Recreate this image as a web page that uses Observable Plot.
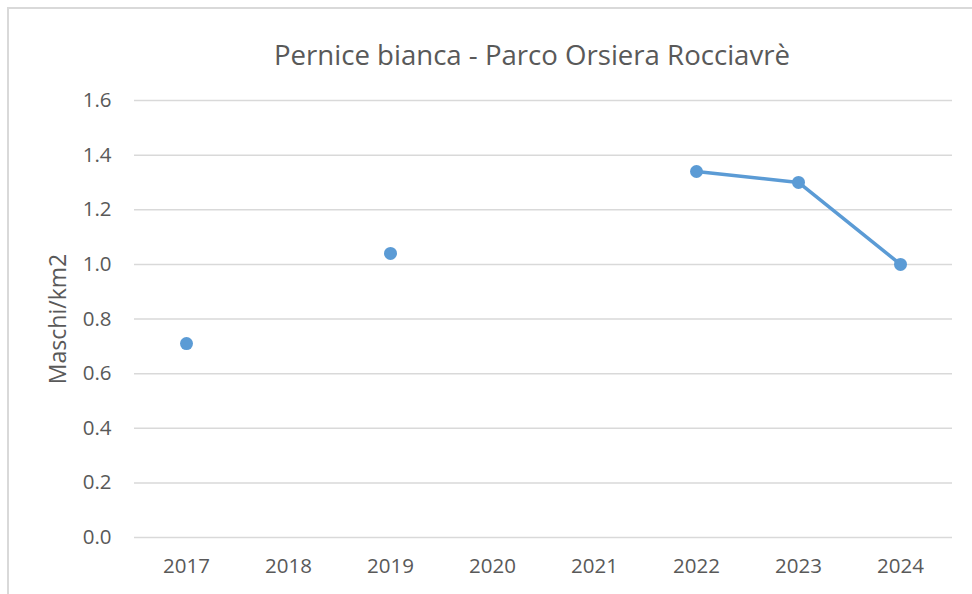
<!DOCTYPE html>
<html>
<head>
<meta charset="utf-8">
<script src="https://cdn.jsdelivr.net/npm/d3@7"></script>
<script src="https://cdn.jsdelivr.net/npm/@observablehq/plot@0.6"></script>
<style>
  html, body { margin: 0; padding: 0; background: #fff; }
  #wrap { position: relative; width: 972px; height: 594px; overflow: hidden; font-family: "Open Sans", sans-serif; }
  #frame { position: absolute; left: 7px; top: 7px; width: 980px; height: 600px; border-top: 2px solid #d9d9d9; border-left: 2px solid #d9d9d9; box-sizing: border-box; }
  #title { position: absolute; left: 0; top: 0; width: 972px; height: 80px; }
  #title span { position: absolute; white-space: nowrap; color: #595959; font-weight: 400; font-size: 26px; line-height: 1; }
  #chart { position: absolute; left: 0; top: 80px; }
</style>
</head>
<body>
<div id="wrap">
  <div id="frame"></div>
  <div id="title"><span id="ttext">Pernice bianca - Parco Orsiera Rocciavrè</span></div>
  <div id="chart"></div>
</div>
<script>
const titleText = "Pernice bianca - Parco Orsiera Rocciavrè";
const yLabel = "Maschi/km2";
const years = ["2017", "2018", "2019", "2020", "2021", "2022", "2023", "2024"];
const values = [0.71, null, 1.04, null, null, 1.34, 1.30, 1.00];
const yTicks = [0, 0.2, 0.4, 0.6, 0.8, 1.0, 1.2, 1.4, 1.6];

const data = years.map((y, i) => ({year: y, value: values[i]}));

// fit title font size to the reference width
const t = document.getElementById("ttext");
t.textContent = titleText;
const targetW = 516;
const w0 = t.getBoundingClientRect().width;
const fs = 26 * targetW / w0;
t.style.fontSize = fs + "px";
t.style.left = "274px";
t.style.top = (65.5 - 0.888 * fs) + "px";

const titleH = 80;
const chart = Plot.plot({
  width: 972,
  height: 594 - titleH,
  marginTop: 100 - titleH,
  marginBottom: 594 - 537,
  marginLeft: 134,
  marginRight: 20,
  style: {fontFamily: "Open Sans, sans-serif", fontSize: "20px", color: "#595959", background: "transparent"},
  x: {type: "point", domain: years, padding: 0.5},
  y: {domain: [0, 1.6]},
  marks: [
    Plot.ruleY(yTicks, {stroke: "#d9d9d9", strokeWidth: 1.5}),
    Plot.axisY(yTicks, {tickSize: 0, tickPadding: 23, tickFormat: d3.format(".1f"), fill: "#595959", fontSize: 20.5, label: null}),
    Plot.axisX({tickSize: 0, tickPadding: 21, fill: "#595959", fontSize: 20.5, label: null}),
    Plot.text([yLabel], {frameAnchor: "left", textAnchor: "middle", dx: -76, rotate: -90, fill: "#595959", fontSize: 23}),
    Plot.line(data, {x: "year", y: "value", stroke: "#5b9bd5", strokeWidth: 3.5}),
    Plot.dot(data.filter(d => d.value != null), {x: "year", y: "value", r: 6.5, fill: "#5b9bd5"})
  ]
});
document.getElementById("chart").appendChild(chart);
</script>
</body>
</html>
